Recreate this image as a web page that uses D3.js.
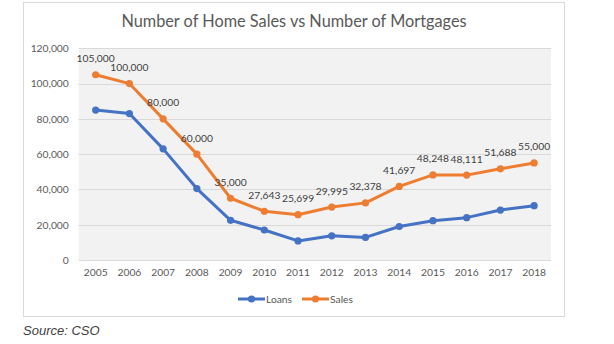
<!DOCTYPE html>
<html>
<head>
<meta charset="utf-8">
<script src="https://cdn.jsdelivr.net/npm/d3@7"></script>
<style>
  html, body { margin: 0; padding: 0; background: #fff; }
  svg { display: block; }
</style>
</head>
<body>
<svg id="chart" width="614" height="344"></svg>
<script>
const years = ["2005","2006","2007","2008","2009","2010","2011","2012","2013","2014","2015","2016","2017","2018"];
const loans = [85000, 83000, 63000, 40500, 22500, 17000, 10800, 13700, 12800, 19000, 22300, 24000, 28300, 30800];
const sales = [105000, 100000, 80000, 60000, 35000, 27643, 25699, 29995, 32378, 41697, 48248, 48111, 51688, 55000];
const yTicks = [0, 20000, 40000, 60000, 80000, 100000, 120000];
const seriesNames = ["Loans", "Sales"];
const seriesColors = ["#4472C4", "#ED7D31"];
const titleText = "Number of Home Sales vs Number of Mortgages";
const sourceText = "Source: CSO";

const FONT = "Lato, 'Open Sans', sans-serif";
const svg = d3.select("#chart");

// outer chart box
svg.append("rect")
  .attr("x", 23.5).attr("y", 2.5)
  .attr("width", 541).attr("height", 314)
  .attr("fill", "#fff").attr("stroke", "#d9d9d9").attr("stroke-width", 1);

const plot = {left: 78.8, right: 551, top: 48.3, bottom: 260};

const x = d3.scaleBand().domain(years).range([plot.left, plot.right]);
const y = d3.scaleLinear().domain([0, 120000]).range([plot.bottom, plot.top]);

// plot background
svg.append("rect")
  .attr("x", plot.left).attr("y", plot.top)
  .attr("width", plot.right - plot.left).attr("height", plot.bottom - plot.top)
  .attr("fill", "#f2f2f2");

// gridlines
svg.append("g").selectAll("line").data(yTicks).join("line")
  .attr("x1", plot.left).attr("x2", plot.right)
  .attr("y1", d => Math.round(y(d)) + 0.5).attr("y2", d => Math.round(y(d)) + 0.5)
  .attr("stroke", "#d9d9d9").attr("stroke-width", 1.2);

// y axis
const yAxis = d3.axisLeft(y).tickValues(yTicks).tickSize(0).tickPadding(10)
  .tickFormat(d3.format(","));
const gy = svg.append("g").attr("transform", `translate(${plot.left},0)`).call(yAxis);
gy.select(".domain").remove();
gy.selectAll("text").attr("font-family", FONT).attr("font-size", 10.3).attr("fill", "#595959");

// x axis
const xAxis = d3.axisBottom(x).tickSize(0).tickPadding(9);
const gx = svg.append("g").attr("transform", `translate(0,${plot.bottom})`).call(xAxis);
gx.select(".domain").remove();
gx.selectAll("text").attr("font-family", FONT).attr("font-size", 10.3).attr("fill", "#595959");

// lines
const cx = d => x(d) + x.bandwidth() / 2;
const line = d3.line().x((d, i) => cx(years[i])).y(d => y(d));
[loans, sales].forEach((vals, si) => {
  svg.append("path").datum(vals)
    .attr("d", line).attr("fill", "none")
    .attr("stroke", seriesColors[si]).attr("stroke-width", 3)
    .attr("stroke-linejoin", "round").attr("stroke-linecap", "round");
  svg.append("g").selectAll("circle").data(vals).join("circle")
    .attr("cx", (d, i) => cx(years[i])).attr("cy", d => y(d))
    .attr("r", 3.6).attr("fill", seriesColors[si]);
});

// data labels for sales
svg.append("g").selectAll("text").data(sales).join("text")
  .attr("x", (d, i) => cx(years[i])).attr("y", d => y(d) - 12.5)
  .attr("text-anchor", "middle")
  .attr("font-family", FONT).attr("font-size", 10.3).attr("fill", "#404040")
  .text(d => d3.format(",")(d));

// title
svg.append("text")
  .attr("x", 294).attr("y", 27)
  .attr("text-anchor", "middle")
  .attr("font-family", FONT).attr("font-size", 16.3).attr("fill", "#595959")
  .text(titleText);

// legend
const legendItems = [{x: 238, tx: 266}, {x: 302, tx: 330}];
seriesNames.forEach((name, i) => {
  const g = svg.append("g");
  const lx = legendItems[i].x;
  g.append("line").attr("x1", lx).attr("x2", lx + 27).attr("y1", 299).attr("y2", 299)
    .attr("stroke", seriesColors[i]).attr("stroke-width", 3);
  g.append("circle").attr("cx", lx + 13.5).attr("cy", 299).attr("r", 3.6).attr("fill", seriesColors[i]);
  g.append("text").attr("x", legendItems[i].tx).attr("y", 302.8)
    .attr("font-family", FONT).attr("font-size", 10.3).attr("fill", "#595959")
    .text(name);
});

// source
svg.append("text")
  .attr("x", 23).attr("y", 335)
  .attr("font-family", "'Liberation Sans', Arial, sans-serif").attr("font-size", 13)
  .attr("font-style", "italic").attr("fill", "#404040")
  .text(sourceText);
</script>
</body>
</html>
